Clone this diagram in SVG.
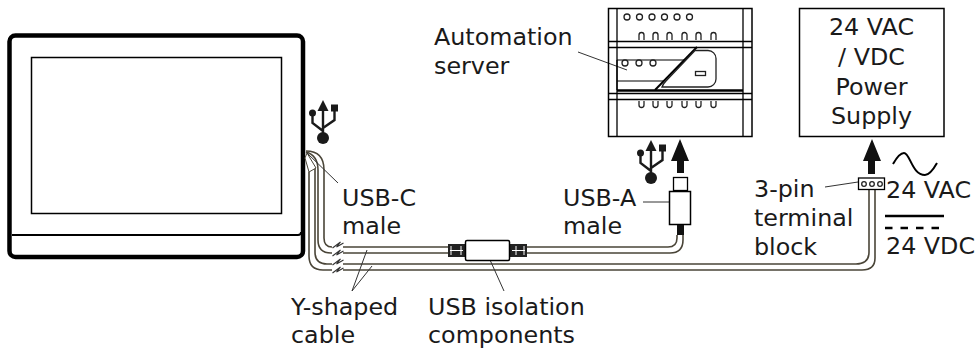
<svg xmlns="http://www.w3.org/2000/svg" width="977" height="349" viewBox="0 0 977 349">
<defs>
<style>
text{font-family:"DejaVu Sans",Verdana,sans-serif;font-size:23.8px;fill:#1a1a1a}
.c{text-anchor:middle}
.k{fill:none;stroke:#000}
.ca{fill:none;stroke:#4a4538;stroke-width:1.600}
.l{fill:none;stroke:#333;stroke-width:1}
.w{fill:#fff;stroke:#000;stroke-width:1.500}
.d{fill:#fff;stroke:#222;stroke-width:1.300}
</style>
<g id="usb"><circle cx="0" cy="0" r="6" fill="#1a1a1a"/><path d="M0 -30V0M-10.500 -24V-15L0 -7M11.500 -28V-18L0 -10" fill="none" stroke="#1a1a1a" stroke-width="2.400"/><path d="M0 -38L-5.500 -27H5.500Z" fill="#1a1a1a"/><circle cx="-10.500" cy="-25" r="3.500" fill="#1a1a1a"/><rect x="8" y="-33.500" width="7" height="7" fill="#1a1a1a"/></g>
<path id="br" d="M-5 -2L3 -8L-1 -3L6 -7M-5 6L3 0L-1 5L6 1" fill="none" stroke="#333" stroke-width="1.100"/>
</defs>
<rect width="977" height="349" fill="#fff"/>
<g id="panel">
<rect x="9.500" y="35.500" width="293.500" height="221.500" rx="6" class="k" stroke-width="4.500"/>
<path d="M12 235H298Q301 235 301 232" class="k" stroke-width="1.800"/>
<rect x="31.500" y="57.500" width="250" height="156" class="k" stroke-width="1.500"/>
</g>
<g id="connectors">
<path class="ca" d="M306 151C318 151 324 158 324 170V238Q324 247 332 247M343 247H448M527 247H668Q677 247 677 238V235"/>
<path class="ca" d="M306 152C313 154 318 160 318 170V240Q318 253 331 253H332M343 253H448M527 253H670Q683 253 683 240V235"/>
<path class="ca" d="M315 168V252Q315 264 327 264H332M343 264H856Q869 264 869 252V190"/>
<path class="ca" d="M309 172V256Q309 270 323 270H332M343 270H862Q875 270 875 258V190"/>
<path d="M305 158L309 172L316 168L307 153Z" fill="#fff" stroke="#4a4538"/>
<use href="#br" x="337.500" y="250"/><use href="#br" x="337.500" y="267"/>
<path class="l" d="M307 153L338 183M367 250L352 291M372 266L352 291M486 251L504 291M643 202H676M825 187L858 182M578 52L627 70"/>
<path d="M677 173V161H671L680 139L689 161H684V173Z" fill="#111"/>
<path d="M868 174V161H863L872 139L881 161H875V174Z" fill="#111"/>
</g>
<g id="usb-iso">
<rect x="448" y="244" width="17" height="13" fill="#222"/>
<rect x="510" y="244" width="17" height="13" fill="#222"/>
<path d="M450 250.500H463M512 250.500H525M451 246V255M461 246V255M516 246V255M524 246V255" stroke="#fff" stroke-width="1"/>
<rect x="465.500" y="240.500" width="44" height="20" rx="1.500" class="w"/>
</g>
<g id="server">
<rect x="608.500" y="8.500" width="143.500" height="128" fill="#fff" class="k" stroke-width="1.500"/>
<path d="M617 8.500V136.500M743 8.500V136.500M608 41.500H752M608 47.500H752M608 93.500H752M608 99.500H752" class="k" stroke-width="1.300"/>
<path d="M617 60H684M617 81H663M617 60V90" class="k" stroke-width="1.200"/>
<path d="M617 90.500H743" class="k" stroke-width="2.500"/>
<path d="M655 90L697 47" class="k" stroke-width="2"/>
<path d="M662 87Q663 84 666 81L695 50.500H708a8 8 0 0 1 8 8V79a8 8 0 0 1 -8 8Z" class="d"/>
<rect x="695.500" y="71.500" width="10" height="4" class="d"/>
<g class="d"><circle cx="627" cy="17" r="3"/><circle cx="639.500" cy="17" r="3"/><circle cx="652" cy="17" r="3"/><circle cx="664.500" cy="17" r="3"/><circle cx="677" cy="17" r="3"/><circle cx="689.500" cy="17" r="3"/><circle cx="625" cy="63" r="3"/><circle cx="639" cy="63" r="3"/><circle cx="653" cy="63" r="3"/></g>
<path class="d" d="M639 40V35a2.500 2.500 0 0 1 5 0V40M653 40V35a2.500 2.500 0 0 1 5 0V40M667 40V35a2.500 2.500 0 0 1 5 0V40M682 40V35a2.500 2.500 0 0 1 5 0V40M696 40V35a2.500 2.500 0 0 1 5 0V40M711 40V35a2.500 2.500 0 0 1 5 0V40M639 101V105a2.500 2.500 0 0 0 5 0V101M653 101V105a2.500 2.500 0 0 0 5 0V101M667 101V105a2.500 2.500 0 0 0 5 0V101M682 101V105a2.500 2.500 0 0 0 5 0V101M696 101V105a2.500 2.500 0 0 0 5 0V101M711 101V105a2.500 2.500 0 0 0 5 0V101"/>
</g>
<g id="power"><rect x="799.500" y="8.500" width="144.500" height="128" class="w"/>
<text class="c" x="871.500" y="35">24 VAC</text><text class="c" x="871.500" y="65">/ VDC</text><text class="c" x="871.500" y="95">Power</text><text class="c" x="871.500" y="124">Supply</text></g>
<g id="usb-a">
<rect x="673.500" y="177.500" width="14" height="13" fill="#fff" stroke="#000" stroke-width="1.300"/>
<rect x="669.500" y="191.500" width="21" height="33" class="w"/>
<rect x="677" y="225" width="7" height="10" fill="#111"/>
</g>
<g id="block"><rect x="858.500" y="178" width="26" height="11.500" fill="#fff" stroke="#000" stroke-width="1.300"/>
<circle cx="864" cy="184" r="2.300" class="d"/><circle cx="872" cy="184" r="2.300" class="d"/><circle cx="880" cy="184" r="2.300" class="d"/></g>
<use href="#usb" x="323" y="138"/>
<use href="#usb" x="651" y="178"/>
<g id="labels">
<path d="M893 164C897 157 900 153 904 153C910 153 912 175 925 175C929 175 933 170 937 163" class="k" stroke-width="2" stroke="#222"/>
<path d="M885 216H944" class="k" stroke-width="2.500" stroke="#222"/>
<path d="M885 228H941" class="k" stroke-width="2.500" stroke="#222" stroke-dasharray="7.500 8"/>
<text x="342" y="206">USB-C</text><text x="342" y="234">male</text>
<text x="434" y="45">Automation</text><text x="434" y="74">server</text>
<text x="563" y="206">USB-A</text><text x="563" y="234">male</text>
<text x="754" y="197">3-pin</text><text x="754" y="226">terminal</text><text x="754" y="255">block</text>
<text x="886" y="198">24 VAC</text><text x="886" y="254">24 VDC</text>
<text x="291" y="315">Y-shaped</text><text x="291" y="343">cable</text>
<text x="428" y="315">USB isolation</text><text x="428" y="343">components</text>
</g>
</svg>
